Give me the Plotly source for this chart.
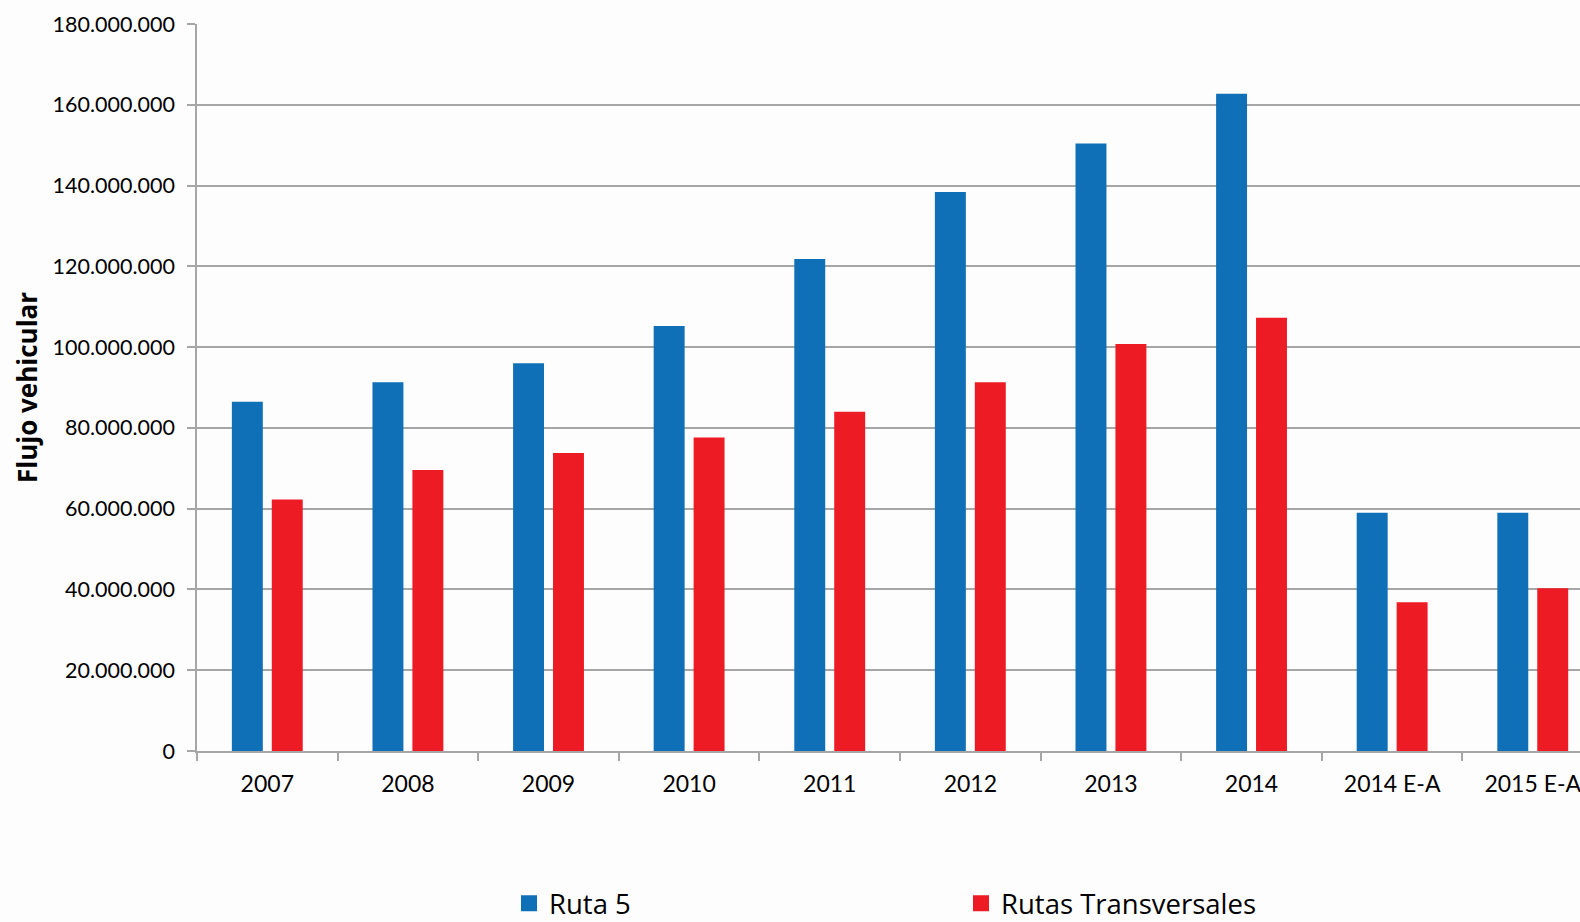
import plotly.graph_objects as go

years = ["2007", "2008", "2009", "2010", "2011", "2012", "2013", "2014",
         "2014 E-A", "2015 E-A"]

ruta_5 = [86.5e6, 91.3e6, 96.0e6, 105.2e6, 121.8e6, 138.4e6, 150.4e6,
          162.7e6, 59.0e6, 59.0e6]
rutas_transversales = [62.3e6, 69.6e6, 73.8e6, 77.6e6, 84.0e6, 91.3e6,
                       100.8e6, 107.3e6, 36.8e6, 40.3e6]

y_ticks = list(range(0, 180_000_001, 20_000_000))
y_tick_labels = [f"{v:,}".replace(",", ".") for v in y_ticks]

blue = "#0F70B7"
red = "#ED1C24"
grid = "#A6A6A6"
bg = "#FDFDFE"

fig = go.Figure()

fig.add_trace(
    go.Bar(
        x=years,
        y=ruta_5,
        name="Ruta 5",
        marker=dict(color=blue, line=dict(width=0)),
        showlegend=False
    )
)

fig.add_trace(
    go.Bar(
        x=years,
        y=rutas_transversales,
        name="Rutas Transversales",
        marker=dict(color=red, line=dict(width=0)),
        showlegend=False
    )
)

# legend entries with larger square swatches
for name, color in [("Ruta 5", blue), ("Rutas Transversales", red)]:
    fig.add_trace(
        go.Scatter(
            x=[None],
            y=[None],
            mode="markers",
            name=name,
            marker=dict(symbol="square", size=18, color=color)
        )
    )

fig.update_layout(
    width=1580,
    height=922,
    barmode="group",
    bargap=0.432,
    bargroupgap=0.225,
    plot_bgcolor=bg,
    paper_bgcolor=bg,
    font=dict(family="Lato", color="#000000"),
    margin=dict(l=197, r=0, t=24, b=171, autoexpand=False),
    xaxis=dict(
        type="category",
        range=[-0.5, 9.336],
        tickson="boundaries",
        ticks="outside",
        ticklen=8,
        tickcolor=grid,
        tickwidth=1.5,
        showline=True,
        linecolor=grid,
        linewidth=1.5,
        showgrid=False,
        ticklabelstandoff=12,
        tickfont=dict(size=23)
    ),
    yaxis=dict(
        range=[0, 180_000_000],
        tickvals=y_ticks,
        ticktext=y_tick_labels,
        ticks="outside",
        ticklen=8,
        tickcolor=grid,
        tickwidth=1.5,
        showline=True,
        linecolor=grid,
        linewidth=1.5,
        gridcolor=grid,
        gridwidth=1.5,
        zeroline=False,
        ticklabelstandoff=8,
        tickfont=dict(size=21.5),
        title=dict(
            text="<b>Flujo vehicular</b>",
            font=dict(family="Open Sans", size=26),
            standoff=7
        )
    ),
    legend=dict(
        orientation="h",
        x=0.2256,
        xanchor="left",
        y=-0.2095,
        yanchor="middle",
        entrywidth=407,
        itemwidth=30,
        font=dict(family="Open Sans", size=27.5),
        bgcolor="rgba(0,0,0,0)"
    ),
    showlegend=True
)

fig.write_html(
    "out.html",
    config={"displayModeBar": False},
    post_script="document.body.style.margin='0';"
)
